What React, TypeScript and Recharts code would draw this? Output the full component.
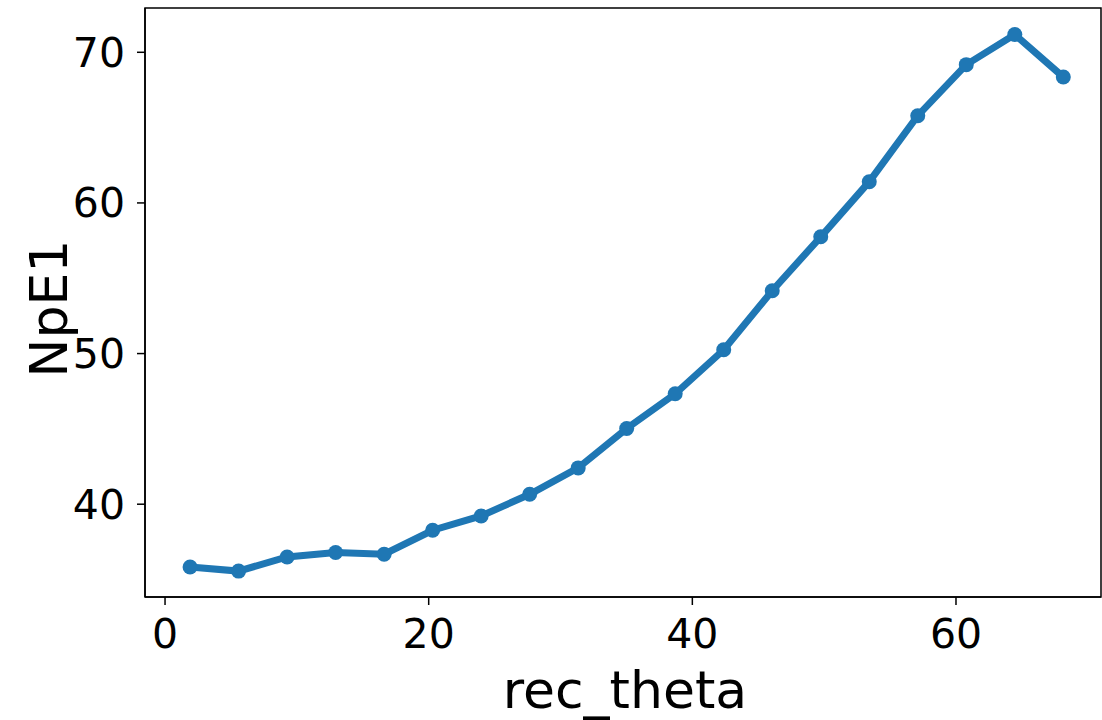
import React from 'react'
import {
    LineChart,
    Line,
    XAxis,
    YAxis,
    ReferenceArea
} from 'recharts'

// values
const recTheta = [
    1.9, 5.58, 9.26, 12.94, 16.62, 20.3, 23.98, 27.66, 31.34, 35.02,
    38.7, 42.38, 46.06, 49.74, 53.42, 57.1, 60.78, 64.46, 68.14
]
const npE1 = [
    35.83, 35.56, 36.5, 36.79, 36.68, 38.27, 39.22, 40.66, 42.41, 45.03,
    47.33, 50.25, 54.17, 57.75, 61.41, 65.79, 69.18, 71.18, 68.36
]
const xTicks = [0, 20, 40, 60]
const yTicks = [40, 50, 60, 70]
const xDomain: [number, number] = [-1.52, 71]
const yDomain: [number, number] = [33.84, 72.94]

const FONT = '"DejaVu Sans", sans-serif'
const BLUE = '#1f77b4'

const chartData = recTheta.map((x, i) => ({ x, y: npE1[i] }))

export default function App() {
    return (
        <div style={{ position: 'absolute', left: 0, top: 0, width: 1102, height: 720, background: '#fff' }}>
            <LineChart
                width={1102}
                height={720}
                data={chartData}
                margin={{ top: 8, right: 1, bottom: 0, left: 0 }}
                style={{ fontFamily: FONT }}
            >
                <XAxis
                    dataKey="x"
                    type="number"
                    domain={xDomain}
                    ticks={xTicks}
                    allowDataOverflow
                    height={123}
                    tickSize={8}
                    tickMargin={14}
                    stroke="#000"
                    strokeWidth={1.5}
                    tick={{ fill: '#000', fontSize: 41, fontFamily: FONT }}
                    label={(props: any) => {
                        const vb = props.viewBox
                        return (
                            <text
                                x={vb.x + vb.width / 2 + 2}
                                y={708}
                                textAnchor="middle"
                                fontSize={52}
                                fontFamily={FONT}
                                fill="#000"
                            >
                                rec_theta
                            </text>
                        )
                    }}
                />
                <YAxis
                    dataKey="y"
                    type="number"
                    domain={yDomain}
                    ticks={yTicks}
                    allowDataOverflow
                    width={145}
                    tickSize={8}
                    tickMargin={12}
                    stroke="#000"
                    strokeWidth={1.5}
                    tick={{ fill: '#000', fontSize: 41, fontFamily: FONT }}
                    label={(props: any) => {
                        const vb = props.viewBox
                        const cy = vb.y + vb.height / 2 + 6
                        return (
                            <text
                                x={67}
                                y={cy}
                                transform={`rotate(-90, 67, ${cy})`}
                                textAnchor="middle"
                                fontSize={52}
                                fontFamily={FONT}
                                fill="#000"
                            >
                                NpE1
                            </text>
                        )
                    }}
                />
                {/* top and right spines */}
                <ReferenceArea
                    x1={xDomain[0]}
                    x2={xDomain[1]}
                    y1={yDomain[0]}
                    y2={yDomain[1]}
                    fill="none"
                    stroke="#000"
                    strokeWidth={1.5}
                />
                <Line
                    type="linear"
                    dataKey="y"
                    stroke={BLUE}
                    strokeWidth={7}
                    dot={{ r: 7.5, fill: BLUE, stroke: BLUE, strokeWidth: 0 }}
                    activeDot={false}
                    isAnimationActive={false}
                />
            </LineChart>
        </div>
    )
}
